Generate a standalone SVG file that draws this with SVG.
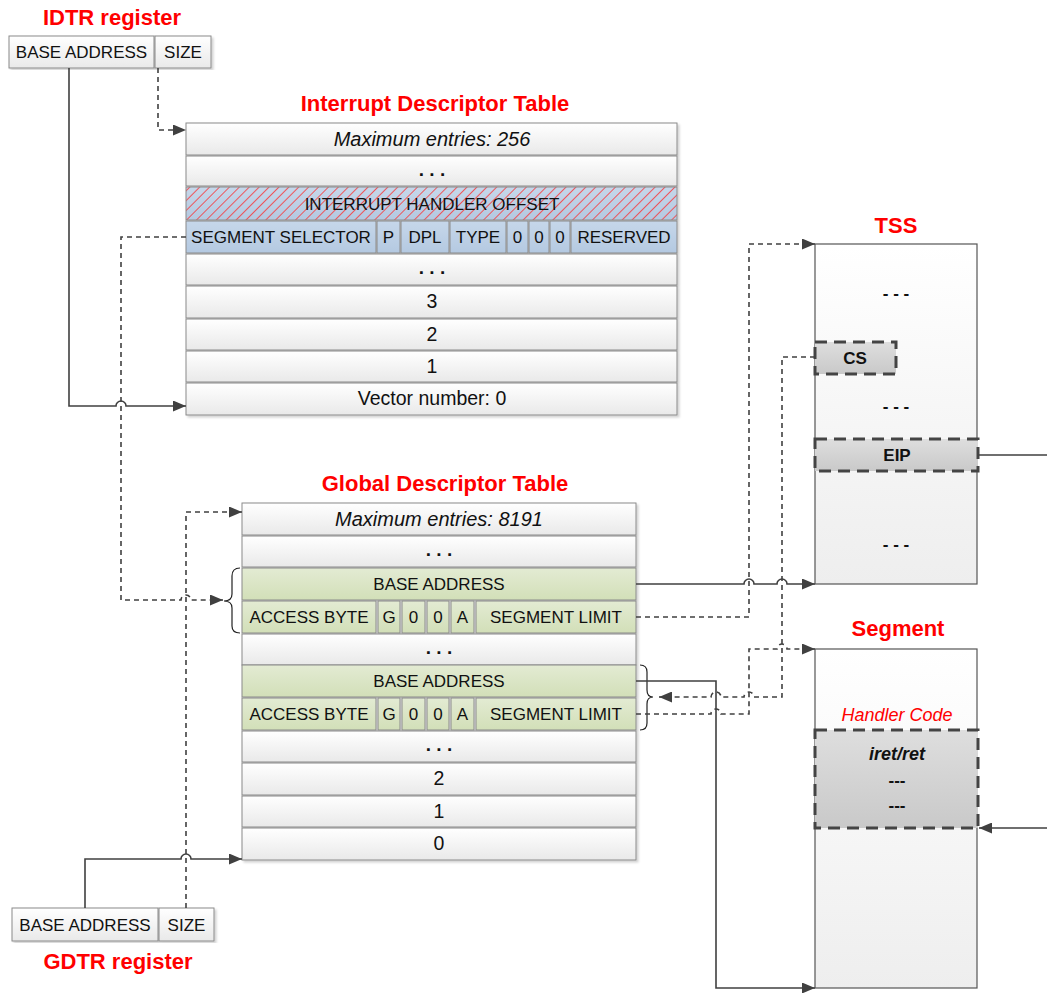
<svg xmlns="http://www.w3.org/2000/svg" width="1047" height="993" viewBox="0 0 1047 993">
  <defs>
    <linearGradient id="gWhite" x1="0" y1="0" x2="0" y2="1">
      <stop offset="0" stop-color="#ffffff"/>
      <stop offset="1" stop-color="#e9e9e9"/>
    </linearGradient>
    <linearGradient id="gGreen" x1="0" y1="0" x2="0" y2="1">
      <stop offset="0" stop-color="#e3ebd3"/>
      <stop offset="1" stop-color="#d2dfb8"/>
    </linearGradient>
    <linearGradient id="gBlue" x1="0" y1="0" x2="0" y2="1">
      <stop offset="0" stop-color="#c6d7ea"/>
      <stop offset="1" stop-color="#b4c9e1"/>
    </linearGradient>
    <linearGradient id="gPanel" x1="0" y1="0" x2="0" y2="1">
      <stop offset="0" stop-color="#ffffff"/>
      <stop offset="1" stop-color="#eeeeee"/>
    </linearGradient>
    <linearGradient id="gField" x1="0" y1="0" x2="0" y2="1">
      <stop offset="0" stop-color="#dedede"/>
      <stop offset="1" stop-color="#c9c9c9"/>
    </linearGradient>
    <pattern id="hatch" patternUnits="userSpaceOnUse" width="7" height="7" patternTransform="rotate(45)">
      <line x1="0" y1="0" x2="0" y2="7" stroke="#ff2a2a" stroke-width="1.5"/>
    </pattern>
    <marker id="arrow" markerUnits="userSpaceOnUse" markerWidth="13" markerHeight="11" refX="13" refY="5.5" orient="auto">
      <path d="M0,0 L13,5.5 L0,11 z" fill="#404040"/>
    </marker>
    <filter id="shadow" x="-5%" y="-5%" width="110%" height="110%">
      <feDropShadow dx="2" dy="2" stdDeviation="1.2" flood-color="#000" flood-opacity="0.18"/>
    </filter>
  </defs>

  <style>
    .title { font-family: "Liberation Sans", Arial, sans-serif; font-weight: bold; font-size: 22px; fill: #ff0000; text-anchor: middle; }
    .t { font-family: "Liberation Sans", Arial, sans-serif; font-size: 17px; fill: #111; text-anchor: middle; }
    .ti { font-family: "Liberation Sans", Arial, sans-serif; font-size: 20px; font-style: italic; fill: #111; text-anchor: middle; }
    .tl { font-family: "Liberation Sans", Arial, sans-serif; font-size: 19.5px; fill: #111; text-anchor: middle; }
    .dots { font-family: "Liberation Sans", Arial, sans-serif; font-size: 19px; font-weight: bold; fill: #111; text-anchor: middle; }
    .tb { font-family: "Liberation Sans", Arial, sans-serif; font-size: 17px; font-weight: bold; fill: #111; text-anchor: middle; }
    .row { fill: url(#gWhite); stroke: #8a8a8a; stroke-width: 1; }
    .green { fill: url(#gGreen); stroke: #8a8a8a; stroke-width: 1; }
    .blue { fill: url(#gBlue); stroke: #8a8a8a; stroke-width: 1; }
    .panel { fill: url(#gPanel); stroke: #555; stroke-width: 1.2; }
    .field { fill: url(#gField); stroke: #444; stroke-width: 3; stroke-dasharray: 12 7; }
    .brace { fill: none; stroke: #222; stroke-width: 1.2; }
    .solid { fill: none; stroke: #404040; stroke-width: 1.6; }
    .dash { fill: none; stroke: #404040; stroke-width: 1.6; stroke-dasharray: 5 4; }
  </style>

  <rect width="1047" height="993" fill="#ffffff"/>

  <!-- IDTR register -->
  <g id="idtr">
    <text class="title" x="112" y="25">IDTR register</text>
    <g filter="url(#shadow)">
      <rect class="row" x="9" y="36" width="145" height="32"/>
      <rect class="row" x="155" y="36" width="56" height="32"/>
    </g>
    <text class="t" x="81.5" y="58">BASE ADDRESS</text>
    <text class="t" x="183" y="58">SIZE</text>
  </g>

  <!-- Interrupt Descriptor Table -->
  <g id="idt">
    <text class="title" x="435" y="111">Interrupt Descriptor Table</text>
    <g filter="url(#shadow)">
      <rect class="row" x="186" y="123" width="491" height="32"/>
      <rect class="row" x="186" y="156" width="491" height="30"/>
      <rect x="186" y="187" width="491" height="33" fill="url(#gBlue)"/>
      <rect x="186" y="187" width="491" height="33" fill="url(#hatch)" stroke="#8a8a8a" stroke-width="1"/>
      <rect class="blue" x="186" y="221" width="190" height="32"/>
      <rect class="blue" x="377" y="221" width="23" height="32"/>
      <rect class="blue" x="401" y="221" width="48" height="32"/>
      <rect class="blue" x="450" y="221" width="56" height="32"/>
      <rect class="blue" x="507" y="221" width="21" height="32"/>
      <rect class="blue" x="529" y="221" width="20" height="32"/>
      <rect class="blue" x="550" y="221" width="20" height="32"/>
      <rect class="blue" x="571" y="221" width="106" height="32"/>
      <rect class="row" x="186" y="254" width="491" height="31"/>
      <rect class="row" x="186" y="286" width="491" height="32"/>
      <rect class="row" x="186" y="319" width="491" height="31"/>
      <rect class="row" x="186" y="351" width="491" height="31"/>
      <rect class="row" x="186" y="383" width="491" height="32"/>
    </g>
    <text class="ti" x="432" y="146">Maximum entries: 256</text>
    <text class="dots" x="432" y="176">. . .</text>
    <text class="t" x="432" y="210">INTERRUPT HANDLER OFFSET</text>
    <text class="t" x="281" y="243">SEGMENT SELECTOR</text>
    <text class="t" x="388.5" y="243">P</text>
    <text class="t" x="425" y="243">DPL</text>
    <text class="t" x="478" y="243">TYPE</text>
    <text class="t" x="517.5" y="243">0</text>
    <text class="t" x="539" y="243">0</text>
    <text class="t" x="560" y="243">0</text>
    <text class="t" x="624" y="243">RESERVED</text>
    <text class="dots" x="432" y="274">. . .</text>
    <text class="tl" x="432" y="308">3</text>
    <text class="tl" x="432" y="341">2</text>
    <text class="tl" x="432" y="373">1</text>
    <text class="tl" x="432" y="405">Vector number: 0</text>
  </g>

  <!-- Global Descriptor Table -->
  <g id="gdt">
    <text class="title" x="445" y="491">Global Descriptor Table</text>
    <g filter="url(#shadow)">
      <rect class="row" x="242" y="503" width="394" height="32"/>
      <rect class="row" x="242" y="536" width="394" height="31"/>
      <rect class="green" x="242" y="568" width="394" height="32"/>
      <rect class="green" x="242" y="601" width="134" height="32"/>
      <rect class="green" x="378" y="601" width="22" height="32"/>
      <rect class="green" x="402" y="601" width="23" height="32"/>
      <rect class="green" x="427" y="601" width="22" height="32"/>
      <rect class="green" x="451" y="601" width="23" height="32"/>
      <rect class="green" x="476" y="601" width="160" height="32"/>
      <rect class="row" x="242" y="634" width="394" height="31"/>
      <rect class="green" x="242" y="665" width="394" height="32"/>
      <rect class="green" x="242" y="698" width="134" height="32"/>
      <rect class="green" x="378" y="698" width="22" height="32"/>
      <rect class="green" x="402" y="698" width="23" height="32"/>
      <rect class="green" x="427" y="698" width="22" height="32"/>
      <rect class="green" x="451" y="698" width="23" height="32"/>
      <rect class="green" x="476" y="698" width="160" height="32"/>
      <rect class="row" x="242" y="731" width="394" height="31"/>
      <rect class="row" x="242" y="763" width="394" height="32"/>
      <rect class="row" x="242" y="796" width="394" height="31"/>
      <rect class="row" x="242" y="828" width="394" height="32"/>
    </g>
    <text class="ti" x="439" y="526">Maximum entries: 8191</text>
    <text class="dots" x="439" y="556">. . .</text>
    <text class="t" x="439" y="590">BASE ADDRESS</text>
    <text class="t" x="309" y="623">ACCESS BYTE</text>
    <text class="t" x="389" y="623">G</text>
    <text class="t" x="413.5" y="623">0</text>
    <text class="t" x="438" y="623">0</text>
    <text class="t" x="462.5" y="623">A</text>
    <text class="t" x="556" y="623">SEGMENT LIMIT</text>
    <text class="dots" x="439" y="654">. . .</text>
    <text class="t" x="439" y="687">BASE ADDRESS</text>
    <text class="t" x="309" y="720">ACCESS BYTE</text>
    <text class="t" x="389" y="720">G</text>
    <text class="t" x="413.5" y="720">0</text>
    <text class="t" x="438" y="720">0</text>
    <text class="t" x="462.5" y="720">A</text>
    <text class="t" x="556" y="720">SEGMENT LIMIT</text>
    <text class="dots" x="439" y="751">. . .</text>
    <text class="tl" x="439" y="785">2</text>
    <text class="tl" x="439" y="818">1</text>
    <text class="tl" x="439" y="850">0</text>
    <!-- braces grouping the two descriptor entries -->
    <path class="brace" d="M240,568 Q232,568 232,576 V594 Q232,601 224,601 Q232,601 232,608 V626 Q232,633 240,633"/>
    <path class="brace" d="M640,665 Q647,665 647,672 V690 Q647,697 653,697 Q647,697 647,704 V723 Q647,730 640,730"/>
  </g>

  <!-- GDTR register -->
  <g id="gdtr">
    <g filter="url(#shadow)">
      <rect class="row" x="12" y="908" width="146" height="33"/>
      <rect class="row" x="159" y="908" width="55" height="33"/>
    </g>
    <text class="t" x="85" y="931">BASE ADDRESS</text>
    <text class="t" x="186.5" y="931">SIZE</text>
    <text class="title" x="118" y="969">GDTR register</text>
  </g>

  <!-- Task State Segment -->
  <g id="tss">
    <text class="title" x="896" y="233">TSS</text>
    <rect class="panel" x="815" y="244" width="162" height="340"/>
    <text class="tb" x="896" y="299">- - -</text>
    <rect class="field" x="815" y="342" width="81" height="32"/>
    <text class="tb" x="855" y="364">CS</text>
    <text class="tb" x="896" y="412">- - -</text>
    <rect class="field" x="815" y="439" width="163" height="32"/>
    <text class="tb" x="897" y="461">EIP</text>
    <text class="tb" x="896" y="550">- - -</text>
  </g>

  <!-- Code segment -->
  <g id="segment">
    <text class="title" x="898" y="636">Segment</text>
    <rect class="panel" x="815" y="649" width="162" height="339"/>
    <text class="ti" x="897" y="721" style="fill:#ff0000;font-size:18px">Handler Code</text>
    <rect class="field" x="815" y="730" width="163" height="98"/>
    <text class="tb" x="897" y="760" style="font-style:italic;font-size:18px">iret/ret</text>
    <text class="tb" x="897" y="786">---</text>
    <text class="tb" x="897" y="811">---</text>
  </g>

  <!-- Connectors -->
  <g id="connectors">
    <path class="solid" marker-end="url(#arrow)" d="M69,68 V406 H116 A5,5 0 0 1 126,406 H186"/>
    <path class="dash" marker-end="url(#arrow)" d="M158,68 V130 H186"/>
    <path class="dash" marker-end="url(#arrow)" d="M186,237 H121 V600 H181 A5,5 0 0 1 191,600 H223"/>
    <path class="dash" marker-end="url(#arrow)" d="M186,908 V512 H242"/>
    <path class="solid" marker-end="url(#arrow)" d="M85,908 V859 H181 A5,5 0 0 1 191,859 H242"/>
    <path class="solid" marker-end="url(#arrow)" d="M636,584 H744 A5,5 0 0 1 754,584 H777 A5,5 0 0 1 787,584 H815"/>
    <path class="dash" marker-end="url(#arrow)" d="M636,617 H749 V244 H815"/>
    <path class="dash" marker-end="url(#arrow)" d="M815,357 H782 V697 H754 A5,5 0 0 0 744,697 H721 A5,5 0 0 0 711,697 H659"/>
    <path class="dash" marker-end="url(#arrow)" d="M636,714 H711 A5,5 0 0 1 721,714 H749 V649 H777 A5,5 0 0 1 787,649 H815"/>
    <path class="solid" marker-end="url(#arrow)" d="M636,681 H716 V988 H815"/>
    <path class="solid" marker-end="url(#arrow)" d="M978,455 H1060 V828 H979"/>
  </g>
</svg>
